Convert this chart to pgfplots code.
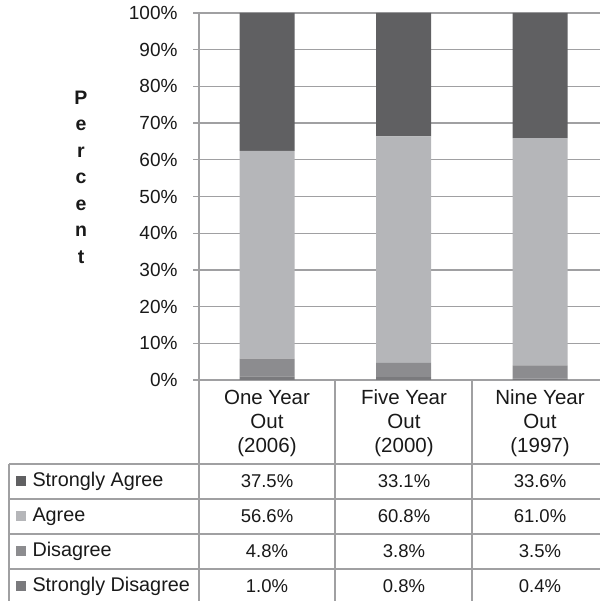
\documentclass[border=0pt]{standalone}
\usepackage{fontspec}
\setmainfont{Liberation Sans}
\usepackage{pgfplots}
\usepackage{pgfplotstable}
\pgfplotsset{compat=1.18}

\definecolor{sagree}{RGB}{96,96,98}
\definecolor{agree}{RGB}{181,182,185}
\definecolor{dis}{RGB}{140,140,143}
\definecolor{sdis}{RGB}{122,122,125}
\definecolor{linegray}{RGB}{160,160,162}
\definecolor{txt}{RGB}{25,25,25}

% raw shares; T is the row total, bars are scaled to 100%
\pgfplotstableread{
x SD  D   A    SA   T
0 1.0 4.8 56.6 37.5 99.9
1 0.8 3.8 60.8 33.1 98.5
2 0.4 3.5 61.0 33.6 98.5
}\survey

\begin{document}
\begin{tikzpicture}[x=1pt, y=1pt]
\useasboundingbox (0,0) rectangle (600,601);
\begin{axis}[
    at={(199pt,221pt)}, anchor=south west,
    scale only axis, width=401pt, height=367pt,
    ybar stacked, bar width=55pt,
    xmin=-0.5, xmax=2.438, ymin=0, ymax=100,
    xtick=\empty, ytick={0,10,...,100},
    yticklabel={\pgfmathprintnumber{\tick}\%},
    axis x line*=bottom, axis y line*=left,
    axis line style={draw=linegray, line width=1.3pt},
    ymajorgrids, major grid style={linegray, line width=1.3pt},
    tick style={linegray, line width=1.3pt},
    major tick length=6pt, tick align=outside,
    yticklabel style={font=\fontsize{19}{20}\selectfont, text=txt, xshift=-12pt},
    /pgf/number format/assume math mode=true,
]
\addplot[fill=sdis, draw=none] table[x=x, y expr=100*\thisrow{SD}/\thisrow{T}] {\survey};
\addplot[fill=dis, draw=none] table[x=x, y expr=100*\thisrow{D}/\thisrow{T}] {\survey};
\addplot[fill=agree, draw=none] table[x=x, y expr=100*\thisrow{A}/\thisrow{T}] {\survey};
\addplot[fill=sagree, draw=none] table[x=x, y expr=100*\thisrow{SA}/\thisrow{T}] {\survey};
\end{axis}

% y axis title, one letter per line
\node[align=center, text=txt, font=\bfseries\fontsize{19.5}{26.5}\selectfont] at (81,424) {P\\e\\r\\c\\e\\n\\t};

% data table under the plot
\begin{scope}[linegray, line width=1.5pt]
\draw (9,137) -- (600,137);
\draw (9,102) -- (600,102);
\draw (9,67) -- (600,67);
\draw (9,32) -- (600,32);
\draw (9,137) -- (9,0);
\draw (199,221) -- (199,0);
\draw (335,221) -- (335,0);
\draw (472,221) -- (472,0);
\end{scope}

\begin{scope}[text=txt]
\foreach \cx/\lab in {267/{One Year\\Out\\(2006)}, 404/{Five Year\\Out\\(2000)}, 540/{Nine Year\\Out\\(1997)}}
  \node[align=center, font=\fontsize{20.5}{24}\selectfont] at (\cx,178) {\lab};

\fill[sagree] (16,114.5) rectangle (26,124.5);
\fill[agree] (16,79.5) rectangle (26,89.5);
\fill[dis] (16,44.5) rectangle (26,54.5);
\fill[sdis] (16,10) rectangle (26,20);
\begin{scope}[font=\fontsize{19.8}{22}\selectfont]
\node[anchor=west] at (29,119.5) {Strongly Agree};
\node[anchor=west] at (29,84.5) {Agree};
\node[anchor=west] at (29,49.5) {Disagree};
\node[anchor=west] at (29,15) {Strongly Disagree};
\end{scope}
\begin{scope}[font=\fontsize{18.5}{20}\selectfont]
\node at (267,119.5) {37.5\%}; \node at (404,119.5) {33.1\%}; \node at (540,119.5) {33.6\%};
\node at (267,84.5) {56.6\%};  \node at (404,84.5) {60.8\%};  \node at (540,84.5) {61.0\%};
\node at (267,49.5) {4.8\%};   \node at (404,49.5) {3.8\%};   \node at (540,49.5) {3.5\%};
\node at (267,15) {1.0\%};     \node at (404,15) {0.8\%};     \node at (540,15) {0.4\%};
\end{scope}
\end{scope}
\end{tikzpicture}
\end{document}
